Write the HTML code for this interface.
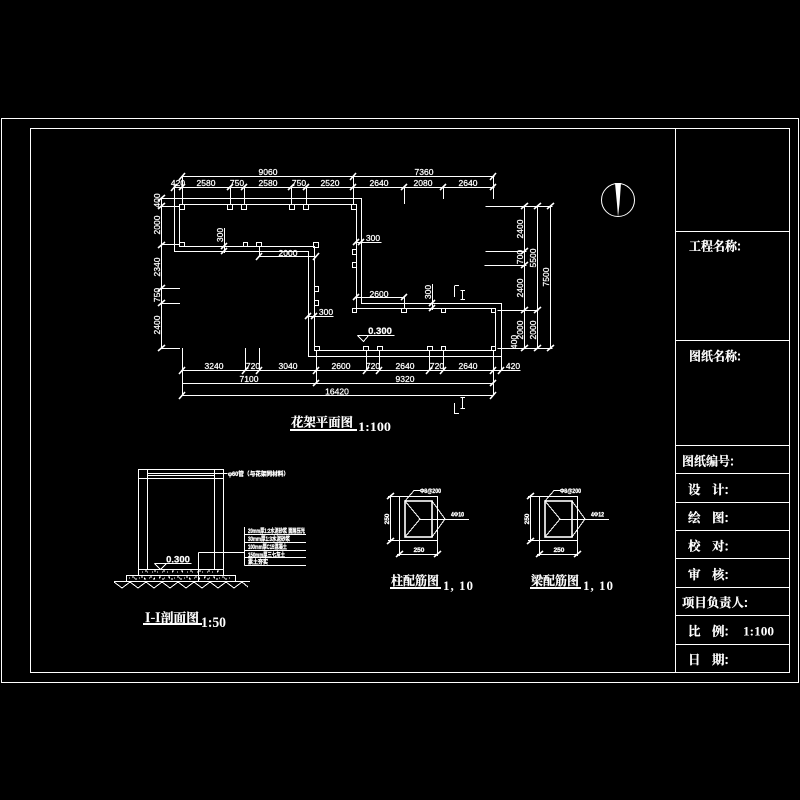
<!DOCTYPE html>
<html><head><meta charset="utf-8"><style>
html,body{margin:0;padding:0;background:#000}
svg{display:block}
.l{fill:none;stroke:#fff;stroke-width:1;shape-rendering:crispEdges}
.t{fill:none;stroke:#fff;stroke-width:1.6}
.d{fill:#fff;stroke:#fff;stroke-width:.25;font:8.5px "Liberation Sans",sans-serif;text-anchor:middle}
.s{fill:#fff;stroke:#fff;stroke-width:.3;font:bold 6px "Liberation Sans","Noto Sans CJK SC",sans-serif}
.c{fill:#fff;stroke:#fff;stroke-width:.25;font:bold 12.5px "Noto Serif CJK SC","Noto Sans CJK SC",serif}
.n{fill:#fff;font:bold 13px "Liberation Serif",serif}
.h{font-size:6.5px;font-weight:bold;stroke-width:.3}
</style></head><body>
<svg width="800" height="800" viewBox="0 0 800 800" xmlns="http://www.w3.org/2000/svg">
<rect width="800" height="800" fill="#000"/>
<path class="l" d="M1.5 118.500H798.500V682.500H1.500ZM30.500 128.500H789.500V672.500H30.500ZM675.500 128.500V672.500M675.500 231.500H789.500M675.500 340.500H789.500M675.500 445.500H789.500M675.500 473.500H789.500M675.500 502.500H789.500M675.500 530.500H789.500M675.500 558.500H789.500M675.500 587.500H789.500M675.500 615.500H789.500M675.500 644.500H789.500"/>

<!-- walls -->
<path class="l" d="M174.500 187.500V251.500H308.500V356.500H501.500V303.500H361.500V198.500H161.500"/>
<path class="l" d="M179.500 204.500H356.500V308.500H495.500V350.500H314.500V246.500H179.500Z"/>
<!-- columns -->
<path class="l" d="M179.500 204.500h5v5h-5zM227.500 204.500h5v5h-5zM241.500 204.500h5v5h-5zM289.500 204.500h5v5h-5zM303.500 204.500h5v5h-5zM351.500 204.500h5v5h-5zM179.500 242.500h5v4h-5zM243.500 242.500h4v4h-4zM256.500 242.500h5v4h-5zM313.500 242.500h5v5h-5zM314.500 286.500h4v5h-4zM314.500 300.500h4v5h-4zM314.500 346.500h5v4h-5zM352.500 249.500h4v5h-4zM352.500 262.500h4v5h-4zM352.500 308.500h4v4h-4zM401.500 308.500h5v4h-5zM441.500 308.500h4v4h-4zM491.500 308.500h4v4h-4zM363.500 346.500h5v4h-5zM377.500 346.500h5v4h-5zM427.500 346.500h5v4h-5zM441.500 346.500h4v4h-4zM491.500 346.500h4v4h-4z"/>
<!-- dims -->
<path class="l" d="M182.500 176.500H494.500M174.500 187.500H494.500M182.500 176.500V205M230.500 187.500V205M244.500 187.500V205M291.500 187.500V205M306.500 187.500V205M353.500 176.500V205M404.500 187.500V204M443.500 187.500V199M493.500 176.500V199
M161.500 198.500V348.500M161.500 206.500H180M161.500 244.500H180M161.500 288.500H180M161.500 303.500H180M161.500 348.500H180
M182.500 348V395.500M245.500 348V370.500M259.500 348V370.500M316.500 350V383.500M366.500 350V370.500M379.500 350V370.500M429.500 350V370.500M443.500 350V370.500M493.500 350V395.500M501.500 356V370.500
M182.500 370.500H520.500M182.500 383.500H493.500M182.500 395.500H493.500
M485.500 206.500H552.500M485.500 251.500H526.500M484.500 265.500H526.500M497.500 310.500H538.500M497.500 348.500H552.500M524.500 206.500V348.500M537.500 206.500V348.500M550.500 206.500V348.500
M224.500 228V253M259.500 247V257M259.500 256.500H316.500M356.500 242.500H381.500M356.500 297.500H404.500M404.500 297.500V308M432.500 284V310M308.500 316.500H333.500
M357.500 335.500H394.500M357.500 335.500L363.500 341.500L368.500 335.500
M454.500 286V297M454.500 285.500H459M462.500 291V299M460.500 290.500H465M460.500 299.500H465M462.500 398V408M460.500 397.500H465M460.500 408.500H465M454.500 403V414M454.500 413.500H459"/>
<path class="t" d="M179 180l6-7M350 180l6-7M490 180l6-7M171 191l6-7M179 190l6-6M227 190l6-6M241 190l6-6M288 190l6-6M303 190l6-6M350 190l6-6M401 190l6-6M440 190l6-6M490 190l6-6
M158 201l7-6M158 209l7-6M158 248l7-6M158 291l7-6M158 306l7-6M158 351l7-6
M179 374l6-7M242 374l6-7M256 374l6-7M313 374l6-7M363 374l6-7M376 374l6-7M426 374l6-7M440 374l6-7M490 374l6-7M498 374l6-7M179 399l6-7M313 386l6-6M490 386l6-6M490 399l6-7
M521 209l7-6M521 254l7-6M521 268l7-6M521 313l7-6M521 351l7-6M534 209l7-6M534 313l7-6M534 351l7-6M547 209l7-6M547 351l7-6
M221 249l6-6M221 254l6-6M256 260l6-7M313 260l6-7M353 245l6-6M358 245l6-6M353 300l6-6M401 300l6-6M429 306l6-6M429 311l6-6M305 319l6-6M311 319l6-6"/>
<!-- dim text -->
<g class="d">
<text x="268" y="175">9060</text><text x="424" y="175">7360</text>
<text x="178" y="186">420</text><text x="206" y="186">2580</text><text x="237" y="186">750</text><text x="268" y="186">2580</text><text x="299" y="186">750</text><text x="330" y="186">2520</text><text x="379" y="186">2640</text><text x="423" y="186">2080</text><text x="468" y="186">2640</text>
<text x="214" y="369">3240</text><text x="253" y="369">720</text><text x="288" y="369">3040</text><text x="341" y="369">2600</text><text x="373" y="369">720</text><text x="405" y="369">2640</text><text x="437" y="369">720</text><text x="468" y="369">2640</text><text x="513" y="369">420</text>
<text x="249" y="382">7100</text><text x="405" y="382">9320</text><text x="337" y="394.500">16420</text>
<text x="288" y="256">2000</text><text x="373" y="241">300</text><text x="379" y="297">2600</text><text x="326" y="315">300</text>
<text transform="translate(160,200.500) rotate(-90)">400</text>
<text transform="translate(160,225) rotate(-90)">2000</text>
<text transform="translate(160,267) rotate(-90)">2340</text>
<text transform="translate(160,295) rotate(-90)">750</text>
<text transform="translate(160,325) rotate(-90)">2400</text>
<text transform="translate(223,235) rotate(-90)">300</text>
<text transform="translate(431,292) rotate(-90)">300</text>
<text transform="translate(523,229) rotate(-90)">2400</text>
<text transform="translate(523,257) rotate(-90)">700</text>
<text transform="translate(523,288) rotate(-90)">2400</text>
<text transform="translate(523,330) rotate(-90)">2000</text>
<text transform="translate(517,342) rotate(-90)">400</text>
<text transform="translate(536,258) rotate(-90)">5500</text>
<text transform="translate(536,330) rotate(-90)">2000</text>
<text transform="translate(549,277) rotate(-90)">7500</text>
<text x="380" y="334" style="font-size:9.500px;font-weight:bold">0.300</text>
</g>
<text class="c" x="291" y="426.500" textLength="62" lengthAdjust="spacingAndGlyphs">花架平面图</text>
<rect x="290" y="429" width="67" height="2" fill="#fff"/>
<text class="n" x="358" y="431" textLength="33" lengthAdjust="spacingAndGlyphs">1:100</text>

<!-- north -->
<circle cx="618" cy="200" r="16.500" fill="none" stroke="#fff" stroke-width="1"/>
<path fill="#fff" d="M615 183H621L619.500 204L618 217L617 204Z"/>

<!-- section -->
<path class="l" d="M138.500 469.500H223.500V569.500H138.500ZM147.500 469.500V569.500M214.500 469.500V569.500M138.500 478.500H223.500M147.500 473.500H223.500M147.500 475.500H214.500M214.500 473.500H227.500
M138.500 569.500V575.500M223.500 569.500V575.500M126.500 575.500H235.500V581.500H126.500ZM114 581.500H250
M198.500 552.500V581.500M198.500 552.500H244.500M244.500 527V565.500M244.500 534.500H306M244.500 542.500H306M244.500 550.500H306M244.500 557.500H306M244.500 565.500H306
M154.500 563.500H191.500M154.500 563.500L160.500 569.500L166.500 563.500"/>
<path class="l" d="M114 582L122 588L130 582L138 588L146 582L154 588L162 582L170 588L178 582L186 588L194 582L202 588L210 582L218 588L226 582L234 588L242 582L248 587"/>
<path fill="none" stroke="#fff" stroke-width="1" stroke-dasharray="1 4" d="M142 572H222M129 578H233"/>
<path fill="none" stroke="#fff" stroke-width="1" stroke-dasharray="2 7" d="M145 571H220M132 577H230M135 579H228"/>
<text class="s" x="228" y="476" textLength="61" lengthAdjust="spacingAndGlyphs">φ60管（与花架同材料）</text>
<text class="s" x="248" y="533" textLength="57" lengthAdjust="spacingAndGlyphs">20mm厚1:2水泥砂浆 面层压光</text>
<text class="s" x="248" y="541" textLength="42" lengthAdjust="spacingAndGlyphs">30mm厚1:3水泥砂浆</text>
<text class="s" x="248" y="549" textLength="39" lengthAdjust="spacingAndGlyphs">100mm厚C15混凝土</text>
<text class="s" x="248" y="557" textLength="37" lengthAdjust="spacingAndGlyphs">150mm厚三七灰土</text>
<text class="s" x="248" y="564" textLength="20" lengthAdjust="spacingAndGlyphs">素土夯实</text>
<text class="d" x="178" y="562.500" style="font-size:9.500px;font-weight:bold">0.300</text>
<text class="c" x="145" y="622" textLength="54" lengthAdjust="spacingAndGlyphs">I-I剖面图</text>
<rect x="143" y="623" width="59" height="2" fill="#fff"/>
<text class="n" x="201" y="627" style="font-size:15px" textLength="25" lengthAdjust="spacingAndGlyphs">1:50</text>

<!-- rebar 1 -->
<path class="l" d="M399.500 496.500H437.500V540.500H399.500ZM390.500 495V541M388 496.500H400M388 540.500H400M397 554.500H438M399.500 540V556M437.500 540V556M405 501L420 519L405 537M432 501L445 519L432 537M420 519.500H469M405 501L414 490.500H420"/>
<rect x="405" y="501" width="27" height="36" fill="none" stroke="#fff" stroke-width="1.600"/>
<path class="t" d="M387 499l7-6M387 544l7-6M396 557l7-6M434 557l7-6"/>
<text class="d h" x="419" y="552">250</text>
<text class="d h" transform="translate(389,519) rotate(-90)">250</text>
<text class="s" x="420" y="493" textLength="21" lengthAdjust="spacingAndGlyphs">Φ8@200</text>
<text class="s" x="451" y="516.500" textLength="13" lengthAdjust="spacingAndGlyphs">4Φ10</text>
<text class="c" x="391" y="585" textLength="48" lengthAdjust="spacingAndGlyphs">柱配筋图</text>
<rect x="390" y="587" width="51" height="2" fill="#fff"/>
<text class="n" x="443" y="590" textLength="30" xml:space="preserve">1, 10</text>

<!-- rebar 2 -->
<g transform="translate(140,0)">
<path class="l" d="M399.500 496.500H437.500V540.500H399.500ZM390.500 495V541M388 496.500H400M388 540.500H400M397 554.500H438M399.500 540V556M437.500 540V556M405 501L420 519L405 537M432 501L445 519L432 537M420 519.500H469M405 501L414 490.500H420"/>
<rect x="405" y="501" width="27" height="36" fill="none" stroke="#fff" stroke-width="1.600"/>
<path class="t" d="M387 499l7-6M387 544l7-6M396 557l7-6M434 557l7-6"/>
<text class="d h" x="419" y="552">250</text>
<text class="d h" transform="translate(389,519) rotate(-90)">250</text>
<text class="s" x="420" y="493" textLength="21" lengthAdjust="spacingAndGlyphs">Φ8@200</text>
<text class="s" x="451" y="516.500" textLength="13" lengthAdjust="spacingAndGlyphs">4Φ12</text>
<text class="c" x="391" y="585" textLength="48" lengthAdjust="spacingAndGlyphs">梁配筋图</text>
<rect x="390" y="587" width="51" height="2" fill="#fff"/>
<text class="n" x="443" y="590" textLength="30" xml:space="preserve">1, 10</text>
</g>

<!-- title block -->
<text class="c" x="689" y="250.500" textLength="52" lengthAdjust="spacingAndGlyphs">工程名称:</text>
<text class="c" x="689" y="360.500" textLength="52" lengthAdjust="spacingAndGlyphs">图纸名称:</text>
<text class="c" x="682" y="465.500" textLength="52" lengthAdjust="spacingAndGlyphs">图纸编号:</text>
<text class="c" x="688" y="494">设</text><text class="c" x="712" y="494">计:</text>
<text class="c" x="688" y="522">绘</text><text class="c" x="712" y="522">图:</text>
<text class="c" x="688" y="550.500">校</text><text class="c" x="712" y="550.500">对:</text>
<text class="c" x="688" y="579">审</text><text class="c" x="712" y="579">核:</text>
<text class="c" x="682" y="607" textLength="66" lengthAdjust="spacingAndGlyphs">项目负责人:</text>
<text class="c" x="688" y="635.500">比</text><text class="c" x="712" y="635.500">例:</text>
<text class="n" x="743" y="635.500" textLength="31" lengthAdjust="spacingAndGlyphs">1:100</text>
<text class="c" x="688" y="664">日</text><text class="c" x="712" y="664">期:</text>
</svg>
</body></html>
